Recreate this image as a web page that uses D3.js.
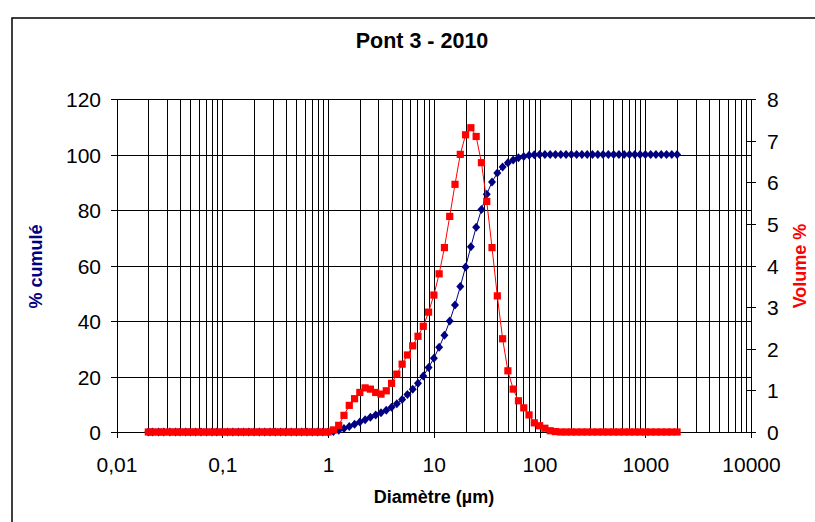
<!DOCTYPE html>
<html>
<head>
<meta charset="utf-8">
<script src="https://cdn.jsdelivr.net/npm/d3@7"></script>
<style>
  html, body { margin: 0; padding: 0; background: #fff; }
  svg { display: block; }
  text { font-family: "Liberation Sans", Arial, sans-serif; }
</style>
</head>
<body>
<svg id="chart" width="815" height="522"></svg>
<script>
// ---- data ----
const diameters = [0.020, 0.022, 0.025, 0.028, 0.032, 0.036, 0.040, 0.045, 0.050, 0.056,
  0.063, 0.071, 0.080, 0.089, 0.100, 0.112, 0.126, 0.142, 0.159, 0.178,
  0.200, 0.224, 0.252, 0.283, 0.317, 0.356, 0.399, 0.448, 0.502, 0.564,
  0.632, 0.710, 0.796, 0.893, 1.002, 1.125, 1.262, 1.416, 1.589, 1.783,
  2.000, 2.244, 2.518, 2.825, 3.170, 3.557, 3.991, 4.477, 5.024, 5.637,
  6.325, 7.096, 7.962, 8.934, 10.024, 11.247, 12.619, 14.159, 15.887, 17.825,
  20.000, 22.440, 25.179, 28.251, 31.698, 35.566, 39.905, 44.774, 50.238, 56.368,
  63.246, 70.963, 79.621, 89.337, 100.237, 112.468, 126.191, 141.589, 158.866, 178.250,
  200.000, 224.404, 251.785, 282.508, 316.979, 355.656, 399.052, 447.744, 502.377, 563.677,
  632.456, 709.627, 796.214, 893.367, 1002.374, 1124.683, 1261.915, 1415.892, 1588.656, 1782.502,
  2000.000];

const cumulePct = [0, 0, 0, 0, 0, 0, 0, 0, 0, 0,
  0, 0, 0, 0, 0, 0, 0, 0, 0, 0,
  0, 0, 0, 0, 0, 0, 0, 0, 0, 0,
  0, 0, 0, 0, 0, 0.2, 0.6, 1.3, 2.0, 2.8,
  3.6, 4.4, 5.3, 6.1, 6.9, 7.8, 8.9, 10.2, 11.7, 13.5,
  15.4, 17.6, 20.2, 23.2, 26.6, 30.5, 34.9, 40.0, 45.8, 52.4,
  59.5, 66.8, 73.8, 80.2, 85.7, 90.1, 93.3, 95.5, 97.0, 98.0,
  98.8, 99.3, 99.7, 99.9, 100, 100, 100, 100, 100, 100,
  100, 100, 100, 100, 100, 100, 100, 100, 100, 100,
  100, 100, 100, 100, 100, 100, 100, 100, 100, 100,
  100];

const volumePct = [0, 0, 0, 0, 0, 0, 0, 0, 0, 0,
  0, 0, 0, 0, 0, 0, 0, 0, 0, 0,
  0, 0, 0, 0, 0, 0, 0, 0, 0, 0,
  0, 0, 0, 0, 0, 0.05, 0.16, 0.40, 0.64, 0.80,
  0.95, 1.06, 1.03, 0.95, 0.91, 0.99, 1.17, 1.39, 1.63, 1.85,
  2.07, 2.30, 2.54, 2.88, 3.29, 3.80, 4.43, 5.18, 5.95, 6.67,
  7.14, 7.31, 7.10, 6.47, 5.54, 4.43, 3.27, 2.24, 1.47, 1.03,
  0.75, 0.58, 0.41, 0.22, 0.15, 0.09, 0.03, 0.01, 0, 0,
  0, 0, 0, 0, 0, 0, 0, 0, 0, 0,
  0, 0, 0, 0, 0, 0, 0, 0, 0, 0,
  0];

const xTickValues = [0.01, 0.1, 1, 10, 100, 1000, 10000];
const xTickLabels = ["0,01", "0,1", "1", "10", "100", "1000", "10000"];
const yLeftTicks = [0, 20, 40, 60, 80, 100, 120];
const yRightTicks = [0, 1, 2, 3, 4, 5, 6, 7, 8];

const titleText = "Pont 3 - 2010";
const xTitle = "Diamètre (µm)";
const yLeftTitle = "% cumulé";
const yRightTitle = "Volume %";

// ---- drawing ----
const svg = d3.select("#chart");
const L = 116.5, R = 751, T = 99, B = 432;

svg.append("rect").attr("x", 0).attr("y", 0).attr("width", 815).attr("height", 522).attr("fill", "#fff");
// outer chart frame (clipped by the window on right/bottom)
svg.append("rect").attr("x", 12).attr("y", 18).attr("width", 900).attr("height", 600)
  .attr("fill", "none").attr("stroke", "#000").attr("stroke-width", 1.5);

const x = d3.scaleLog().domain([0.01, 10000]).range([L, R]);
const yL = d3.scaleLinear().domain([0, 120]).range([B, T]);
const yR = d3.scaleLinear().domain([0, 8]).range([B, T]);

// vertical grid lines (log minor + major)
const gridX = [];
for (let k = -2; k <= 3; k++) {
  for (let m = 1; m <= 9; m++) gridX.push(m * Math.pow(10, k));
}
gridX.push(10000);
svg.append("g").selectAll("line").data(gridX).join("line")
  .attr("x1", d => Math.round(x(d)) + 0.5).attr("x2", d => Math.round(x(d)) + 0.5)
  .attr("y1", T).attr("y2", B)
  .attr("stroke", "#000").attr("stroke-width", 1).attr("shape-rendering", "crispEdges");

// horizontal grid lines
svg.append("g").selectAll("line").data(yLeftTicks).join("line")
  .attr("x1", L).attr("x2", R)
  .attr("y1", d => Math.round(yL(d)) + 0.5).attr("y2", d => Math.round(yL(d)) + 0.5)
  .attr("stroke", "#000").attr("stroke-width", 1).attr("shape-rendering", "crispEdges");

// axes
const fontSize = 21;
const gx = svg.append("g").attr("transform", `translate(0,${B})`)
  .call(d3.axisBottom(x).tickValues(xTickValues).tickSize(6)
    .tickFormat((d, i) => xTickLabels[i]));
gx.selectAll("text").attr("y", 40).attr("dy", null)
  .attr("font-size", fontSize).attr("fill", "#000").attr("font-family", "Liberation Sans, Arial, sans-serif");

const gl = svg.append("g").attr("transform", `translate(${L},0)`)
  .call(d3.axisLeft(yL).tickValues(yLeftTicks).tickSize(6).tickFormat(d3.format("d")));
gl.selectAll("text").attr("x", -15.5).attr("y", 7.5).attr("dy", null)
  .attr("font-size", fontSize).attr("fill", "#000").attr("font-family", "Liberation Sans, Arial, sans-serif");

const gr = svg.append("g").attr("transform", `translate(${R},0)`)
  .call(d3.axisRight(yR).tickValues(yRightTicks).tickSize(5).tickFormat(d3.format("d")));
gr.selectAll(".tick line").attr("x1", -5);
gr.selectAll("text").attr("x", 16).attr("y", 7.5).attr("dy", null)
  .attr("font-size", fontSize).attr("fill", "#000").attr("font-family", "Liberation Sans, Arial, sans-serif");

[gx, gl, gr].forEach(g => {
  g.selectAll("path.domain").attr("stroke", "#000").attr("shape-rendering", "crispEdges");
  g.selectAll(".tick line").attr("stroke", "#000").attr("shape-rendering", "crispEdges");
});
gx.select("path.domain").attr("d", `M${L},0.5H${R}`);
gl.select("path.domain").attr("d", `M0.5,${T}V${B}`);
gr.select("path.domain").attr("d", `M0.5,${T}V${B}`);

// series
const cumData = diameters.map((d, i) => [d, cumulePct[i]]);
const volData = diameters.map((d, i) => [d, volumePct[i]]);

const lineL = d3.line().x(d => x(d[0])).y(d => yL(d[1]));
const lineR = d3.line().x(d => x(d[0])).y(d => yR(d[1]));

// cumulative (navy, diamonds)
svg.append("path").datum(cumData).attr("d", lineL)
  .attr("fill", "none").attr("stroke", "#000080").attr("stroke-width", 1);
svg.append("g").selectAll("path").data(cumData).join("path")
  .attr("transform", d => `translate(${x(d[0])},${yL(d[1])})`)
  .attr("d", "M0,-4.5L4,0L0,4.5L-4,0Z")
  .attr("fill", "#000080");

// volume (red, squares)
svg.append("path").datum(volData).attr("d", lineR)
  .attr("fill", "none").attr("stroke", "#FF0000").attr("stroke-width", 1);
svg.append("g").selectAll("rect").data(volData).join("rect")
  .attr("x", d => x(d[0]) - 3.6).attr("y", d => yR(d[1]) - 3.6)
  .attr("width", 7.2).attr("height", 7.2)
  .attr("fill", "#FF0000");

// titles
svg.append("text").attr("x", 422).attr("y", 48).attr("text-anchor", "middle")
  .attr("font-size", 21.5).attr("font-weight", "bold").attr("fill", "#000").text(titleText);
svg.append("text").attr("x", 434).attr("y", 503).attr("text-anchor", "middle")
  .attr("font-size", 18).attr("font-weight", "bold").attr("fill", "#000").text(xTitle);
svg.append("text").attr("transform", "translate(41.5,266.5) rotate(-90)").attr("text-anchor", "middle")
  .attr("font-size", 18).attr("font-weight", "bold").attr("fill", "#000080").text(yLeftTitle);
svg.append("text").attr("transform", "translate(806,266) rotate(-90)").attr("text-anchor", "middle")
  .attr("font-size", 18).attr("font-weight", "bold").attr("fill", "#FF0000").text(yRightTitle);
</script>
</body>
</html>
